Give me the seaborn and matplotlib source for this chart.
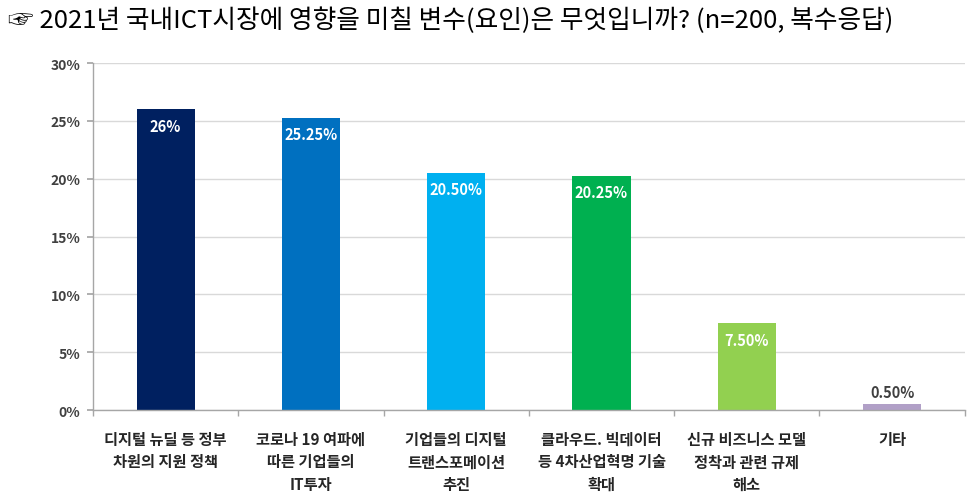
import matplotlib
matplotlib.use("Agg")
import matplotlib.pyplot as plt
import seaborn as sns
import pandas as pd

categories = [
    "디지털 뉴딜 등 정부\n차원의 지원 정책",
    "코로나 19 여파에\n따른 기업들의\nIT투자",
    "기업들의 디지털\n트랜스포메이션\n추진",
    "클라우드. 빅데이터\n등 4차산업혁명 기술\n확대",
    "신규 비즈니스 모델\n정착과 관련 규제\n해소",
    "기타",
]
values = [26.0, 25.25, 20.5, 20.25, 7.5, 0.5]
value_labels = ["26%", "25.25%", "20.50%", "20.25%", "7.50%", "0.50%"]
colors = ["#002060", "#0070C0", "#00B0F0", "#00B050", "#92D050", "#B1A0C7"]
yticks = [0, 5, 10, 15, 20, 25, 30]
ytick_labels = ["0%", "5%", "10%", "15%", "20%", "25%", "30%"]
title = "☞ 2021년 국내ICT시장에 영향을 미칠 변수(요인)은 무엇입니까? (n=200, 복수응답)"

sns.set_theme(style="white")
plt.rcParams["font.family"] = ["Noto Sans CJK KR", "DejaVu Sans"]

df = pd.DataFrame({"cat": categories, "val": values})

fig = plt.figure(figsize=(9.74, 5.02), dpi=100)
ax = fig.add_axes([0.0955, 0.181, 0.895, 0.6915])

sns.barplot(data=df, x="cat", y="val", hue="cat", palette=colors,
            legend=False, width=0.4, saturation=1, ax=ax, linewidth=0)

ax.set_ylim(0, 30)
ax.set_xlim(-0.5, len(categories) - 0.5)
ax.set_yticks(yticks)
ax.set_yticklabels(ytick_labels, fontsize=10, fontweight="bold", color="#404040")
ax.set_xticks(range(len(categories)))
ax.set_xticklabels(categories, fontsize=11, fontweight="bold", color="#262626",
                   linespacing=1.5)
ax.set_xlabel("")
ax.set_ylabel("")

ax.yaxis.grid(True, color="#d9d9d9", linewidth=1)
ax.set_axisbelow(True)
for s in ["top", "right"]:
    ax.spines[s].set_visible(False)
for s in ["left", "bottom"]:
    ax.spines[s].set_color("#a6a6a6")
    ax.spines[s].set_linewidth(1)

ax.tick_params(axis="y", which="both", left=True, length=4, color="#a6a6a6", pad=5)
ax.tick_params(axis="x", which="both", bottom=False, pad=9)
# category boundary ticks
ax.set_xticks([i - 0.5 for i in range(len(categories) + 1)], minor=True)
ax.tick_params(axis="x", which="minor", bottom=True, length=4, color="#a6a6a6")

for i, p in enumerate(ax.patches):
    h = p.get_height()
    x = p.get_x() + p.get_width() / 2
    if h > 3:
        ax.annotate(value_labels[i], (x, h), xytext=(0, -6), textcoords="offset points",
                    ha="center", va="top", fontsize=10.5, fontweight="bold", color="white")
    else:
        ax.annotate(value_labels[i], (x, h), xytext=(0, 3), textcoords="offset points",
                    ha="center", va="bottom", fontsize=10.5, fontweight="bold", color="#404040")

fig.text(0.008, 0.958, title, fontsize=18.5, ha="left", va="center", color="black",
         family=["Noto Sans CJK KR", "DejaVu Sans"])

fig.savefig("out.png", dpi=100, facecolor="white")
